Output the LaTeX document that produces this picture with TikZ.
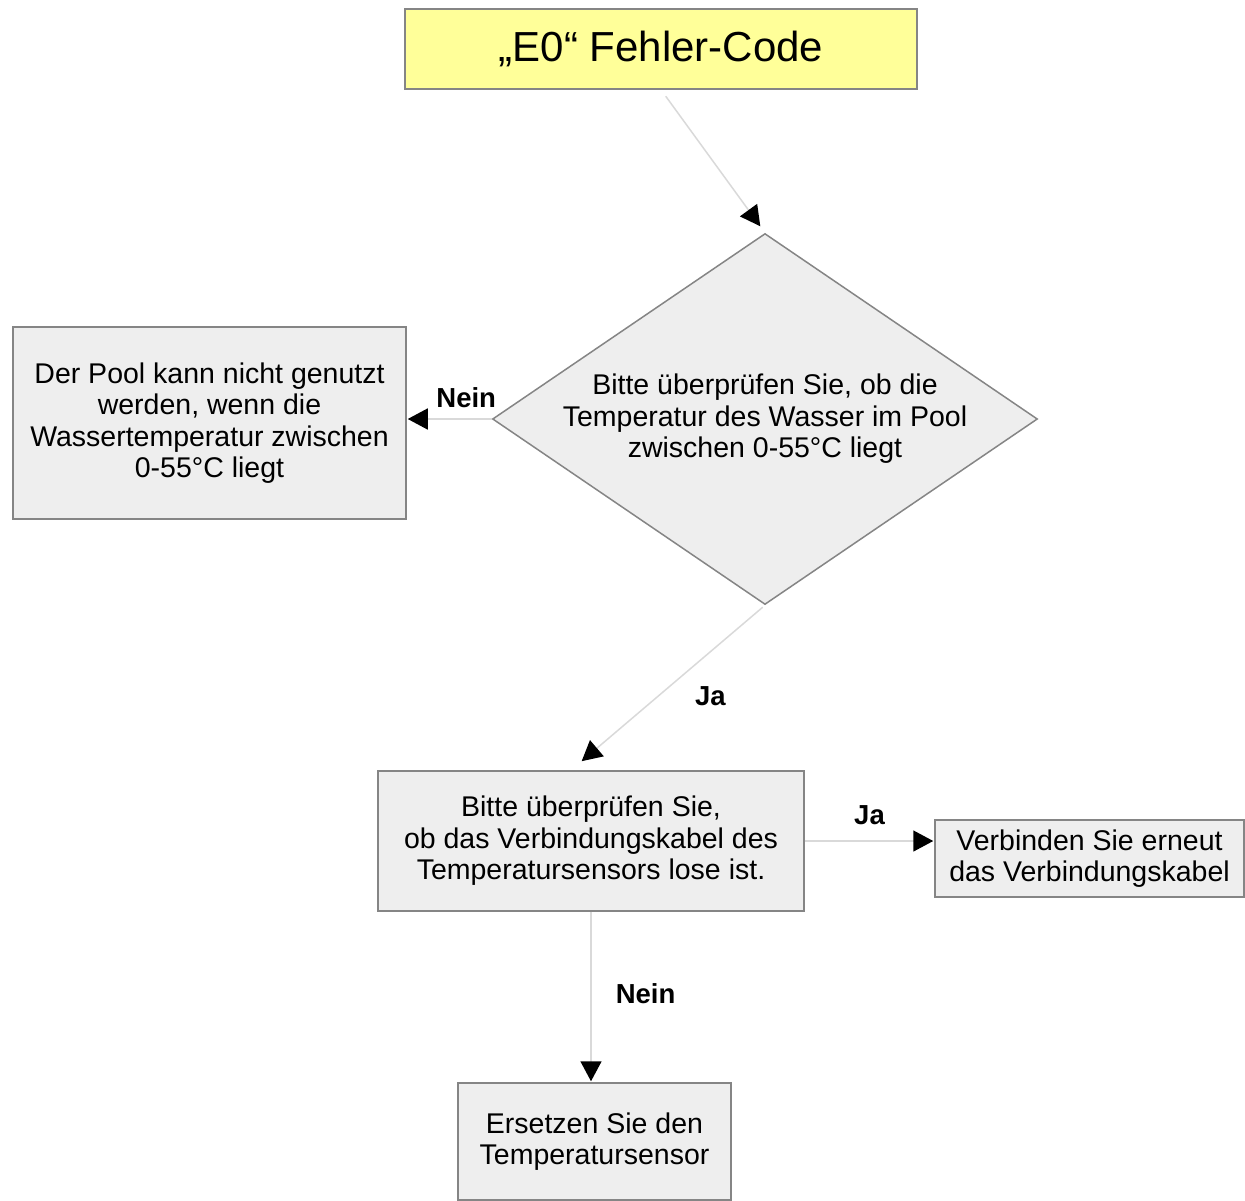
\documentclass[tikz,border=0pt]{standalone}
\usepackage{fontspec}
\setmainfont{Liberation Sans}
\usetikzlibrary{shapes.geometric, arrows.meta}
\definecolor{codeyellow}{HTML}{FFFF99}
\definecolor{boxgray}{HTML}{EEEEEE}
\definecolor{rimgray}{HTML}{858585}
\definecolor{linegray}{HTML}{D9D9D9}

\begin{document}
\begin{tikzpicture}[x=1pt, y=-1pt, >={Triangle[length=20pt,width=21pt,color=black]},
                    box/.style={rectangle, draw=rimgray, line width=1.5pt, fill=boxgray, align=center,
                                inner sep=0pt, font=\fontsize{28.5}{31.5}\selectfont},
                    decision/.style={diamond, draw=rimgray, line width=1.5pt, fill=boxgray, align=center,
                                inner sep=0pt, aspect=1.469, minimum width=545pt, minimum height=371pt,
                                font=\fontsize{28.5}{31.5}\selectfont},
                    answer/.style={font=\fontsize{27.5}{31}\selectfont\bfseries, inner sep=2pt},
                    flow/.style={->, draw=linegray, line width=1.5pt}]

                    \useasboundingbox (0,0) rectangle (1245,1200);

                    \node[box, fill=codeyellow, minimum width=512pt, minimum height=80pt,
                          font=\fontsize{42}{48}\selectfont] (start) at (661,49) {„E0“ Fehler-Code};
                    \node[decision] (check) at (765,419)
                         {Bitte überprüfen Sie, ob die\\Temperatur des Wasser im Pool\\zwischen 0-55°C liegt};
                    \node[box, minimum width=393pt, minimum height=192pt] (pool) at (209.5,423)
                         {Der Pool kann nicht genutzt\\werden, wenn die\\Wassertemperatur zwischen\\0-55°C liegt};
                    \node[box, minimum width=426pt, minimum height=140pt] (kabel) at (591,841)
                         {Bitte überprüfen Sie,\\ob das Verbindungskabel des\\Temperatursensors lose ist.};
                    \node[box, minimum width=309pt, minimum height=77pt] (verbinden) at (1089.5,858.5)
                         {Verbinden Sie erneut\\das Verbindungskabel};
                    \node[box, minimum width=273pt, minimum height=117pt] (sensor) at (594.5,1141.5)
                         {Ersetzen Sie den\\Temperatursensor};

                    \path
                    (start.south) edge [flow, shorten <=8pt, shorten >=8pt] (check.north)
                    (check.west) edge [flow, shorten >=1pt] node[answer, pos=0.3, above=8pt] {Nein} (pool.east |- check.west)
                    (check.south) edge [flow, shorten <=3pt, shorten >=14pt] node[answer, pos=0.55, right=34pt] {Ja}
                                  ([xshift=-20pt]kabel.north)
                    (kabel.east) edge [flow, shorten >=1pt] node[answer, above=13pt] {Ja} (kabel.east -| verbinden.west)
                    (kabel.south) edge [flow, shorten >=1pt] node[answer, pos=0.48, right=22pt] {Nein}
                                  (kabel.south |- sensor.north);
                \end{tikzpicture}
\end{document}
